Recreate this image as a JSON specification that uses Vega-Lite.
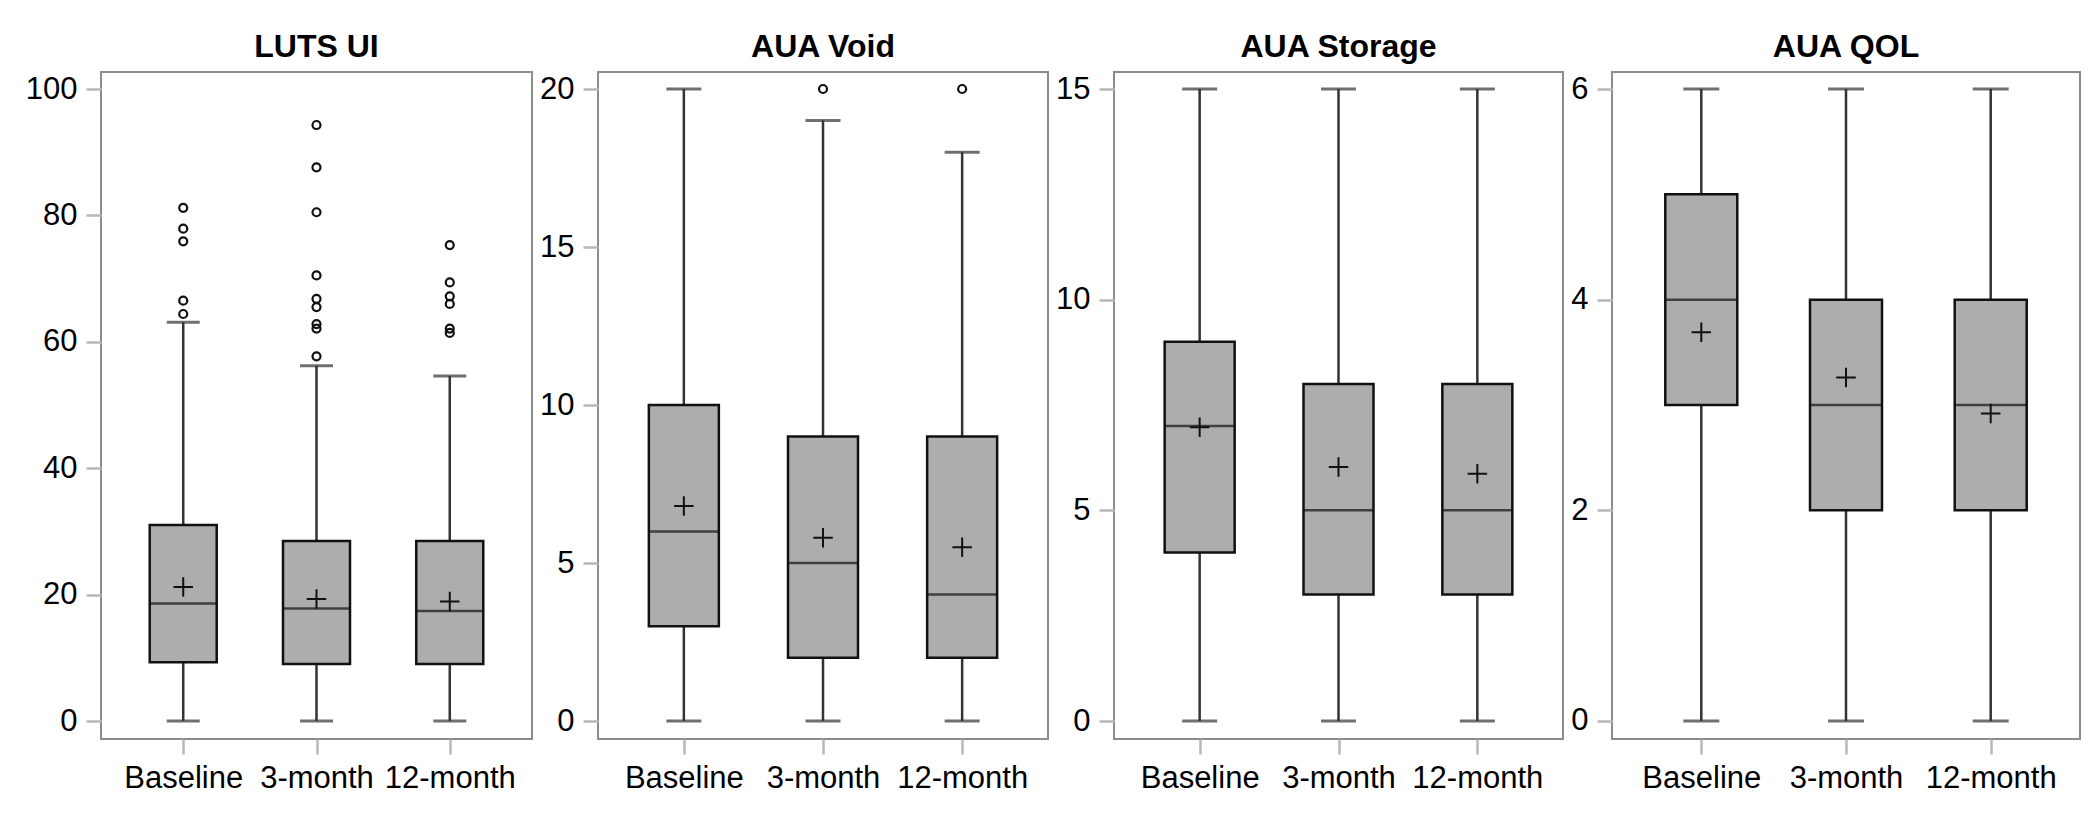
{
  "$schema": "https://vega.github.io/schema/vega-lite/v6.json",
  "background": "white",
  "padding": {"left": 24, "top": 30, "right": 0, "bottom": 0},
  "spacing": 5,
  "datasets": {
    "stats": [
      {"measure": "LUTS UI", "time": "Baseline", "min": 0, "q1": 9.3, "median": 18.6, "q3": 31.0, "max": 63.1, "mean": 21.2},
      {"measure": "LUTS UI", "time": "3-month", "min": 0, "q1": 9.0, "median": 17.8, "q3": 28.5, "max": 56.2, "mean": 19.3},
      {"measure": "LUTS UI", "time": "12-month", "min": 0, "q1": 9.0, "median": 17.4, "q3": 28.5, "max": 54.6, "mean": 18.9},
      {"measure": "AUA Void", "time": "Baseline", "min": 0, "q1": 3, "median": 6, "q3": 10, "max": 20, "mean": 6.8},
      {"measure": "AUA Void", "time": "3-month", "min": 0, "q1": 2, "median": 5, "q3": 9, "max": 19, "mean": 5.8},
      {"measure": "AUA Void", "time": "12-month", "min": 0, "q1": 2, "median": 4, "q3": 9, "max": 18, "mean": 5.5},
      {"measure": "AUA Storage", "time": "Baseline", "min": 0, "q1": 4, "median": 7, "q3": 9, "max": 15, "mean": 6.97},
      {"measure": "AUA Storage", "time": "3-month", "min": 0, "q1": 3, "median": 5, "q3": 8, "max": 15, "mean": 6.03},
      {"measure": "AUA Storage", "time": "12-month", "min": 0, "q1": 3, "median": 5, "q3": 8, "max": 15, "mean": 5.87},
      {"measure": "AUA QOL", "time": "Baseline", "min": 0, "q1": 3, "median": 4, "q3": 5, "max": 6, "mean": 3.69},
      {"measure": "AUA QOL", "time": "3-month", "min": 0, "q1": 2, "median": 3, "q3": 4, "max": 6, "mean": 3.26},
      {"measure": "AUA QOL", "time": "12-month", "min": 0, "q1": 2, "median": 3, "q3": 4, "max": 6, "mean": 2.92}
    ],
    "outliers": [
      {"measure": "LUTS UI", "time": "Baseline", "value": 81.2},
      {"measure": "LUTS UI", "time": "Baseline", "value": 77.9},
      {"measure": "LUTS UI", "time": "Baseline", "value": 75.9},
      {"measure": "LUTS UI", "time": "Baseline", "value": 66.5},
      {"measure": "LUTS UI", "time": "Baseline", "value": 64.4},
      {"measure": "LUTS UI", "time": "3-month", "value": 94.3},
      {"measure": "LUTS UI", "time": "3-month", "value": 87.6},
      {"measure": "LUTS UI", "time": "3-month", "value": 80.5},
      {"measure": "LUTS UI", "time": "3-month", "value": 70.5},
      {"measure": "LUTS UI", "time": "3-month", "value": 66.8},
      {"measure": "LUTS UI", "time": "3-month", "value": 65.5},
      {"measure": "LUTS UI", "time": "3-month", "value": 62.8},
      {"measure": "LUTS UI", "time": "3-month", "value": 62.1},
      {"measure": "LUTS UI", "time": "3-month", "value": 57.7},
      {"measure": "LUTS UI", "time": "12-month", "value": 75.3},
      {"measure": "LUTS UI", "time": "12-month", "value": 69.4},
      {"measure": "LUTS UI", "time": "12-month", "value": 67.2},
      {"measure": "LUTS UI", "time": "12-month", "value": 66.0},
      {"measure": "LUTS UI", "time": "12-month", "value": 62.1},
      {"measure": "LUTS UI", "time": "12-month", "value": 61.4},
      {"measure": "AUA Void", "time": "3-month", "value": 20},
      {"measure": "AUA Void", "time": "12-month", "value": 20}
    ]
  },
  "hconcat": [
    {
      "title": "LUTS UI",
      "width": 431, "height": 667,
      "data": {"name": "stats"},
      "transform": [{"filter": "datum.measure === 'LUTS UI'"}],
      "encoding": {
        "x": {"field": "time", "type": "nominal", "scale": {"type": "point", "padding": 0.617, "domain": ["Baseline", "3-month", "12-month"]}, "axis": {"title": null, "labelAngle": 0}}
      },
      "layer": [
        {"mark": {"type": "rule", "color": "#333333", "strokeWidth": 2.5}, "encoding": {"y": {"field": "min", "type": "quantitative", "scale": {"domain": [-2.848, 102.69], "nice": false, "zero": false}, "axis": {"title": null, "format": "d", "values": [0, 20, 40, 60, 80, 100]}}, "y2": {"field": "max"}}},
        {"mark": {"type": "bar", "size": 67, "fill": "#adadad", "stroke": "#111111", "strokeWidth": 2.5}, "encoding": {"y": {"field": "q1", "type": "quantitative"}, "y2": {"field": "q3"}}},
        {"mark": {"type": "tick", "size": 67, "thickness": 2.5, "color": "#111111"}, "encoding": {"y": {"field": "median", "type": "quantitative"}}},
        {"mark": {"type": "tick", "size": 33, "thickness": 3, "color": "#333333"}, "encoding": {"y": {"field": "min", "type": "quantitative"}}},
        {"mark": {"type": "tick", "size": 33, "thickness": 3, "color": "#333333"}, "encoding": {"y": {"field": "max", "type": "quantitative"}}},
        {"mark": {"type": "point", "shape": "M-1,0H1M0,-1V1", "size": 380, "filled": false, "stroke": "#111111", "strokeWidth": 2, "opacity": 1}, "encoding": {"y": {"field": "mean", "type": "quantitative"}}},
        {"data": {"name": "outliers"}, "transform": [{"filter": "datum.measure === 'LUTS UI'"}], "mark": {"type": "point", "shape": "circle", "size": 64, "filled": false, "stroke": "#111111", "strokeWidth": 2.2, "opacity": 1}, "encoding": {"y": {"field": "value", "type": "quantitative"}}}
      ]
    },
    {
      "title": "AUA Void",
      "width": 450, "height": 667,
      "data": {"name": "stats"},
      "transform": [{"filter": "datum.measure === 'AUA Void'"}],
      "encoding": {
        "x": {"field": "time", "type": "nominal", "scale": {"type": "point", "padding": 0.617, "domain": ["Baseline", "3-month", "12-month"]}, "axis": {"title": null, "labelAngle": 0}}
      },
      "layer": [
        {"mark": {"type": "rule", "color": "#333333", "strokeWidth": 2.5}, "encoding": {"y": {"field": "min", "type": "quantitative", "scale": {"domain": [-0.5696, 20.538], "nice": false, "zero": false}, "axis": {"title": null, "format": "d", "values": [0, 5, 10, 15, 20]}}, "y2": {"field": "max"}}},
        {"mark": {"type": "bar", "size": 70, "fill": "#adadad", "stroke": "#111111", "strokeWidth": 2.5}, "encoding": {"y": {"field": "q1", "type": "quantitative"}, "y2": {"field": "q3"}}},
        {"mark": {"type": "tick", "size": 70, "thickness": 2.5, "color": "#111111"}, "encoding": {"y": {"field": "median", "type": "quantitative"}}},
        {"mark": {"type": "tick", "size": 35, "thickness": 3, "color": "#333333"}, "encoding": {"y": {"field": "min", "type": "quantitative"}}},
        {"mark": {"type": "tick", "size": 35, "thickness": 3, "color": "#333333"}, "encoding": {"y": {"field": "max", "type": "quantitative"}}},
        {"mark": {"type": "point", "shape": "M-1,0H1M0,-1V1", "size": 380, "filled": false, "stroke": "#111111", "strokeWidth": 2, "opacity": 1}, "encoding": {"y": {"field": "mean", "type": "quantitative"}}},
        {"data": {"name": "outliers"}, "transform": [{"filter": "datum.measure === 'AUA Void'"}], "mark": {"type": "point", "shape": "circle", "size": 64, "filled": false, "stroke": "#111111", "strokeWidth": 2.2, "opacity": 1}, "encoding": {"y": {"field": "value", "type": "quantitative"}}}
      ]
    },
    {
      "title": "AUA Storage",
      "width": 449, "height": 667,
      "data": {"name": "stats"},
      "transform": [{"filter": "datum.measure === 'AUA Storage'"}],
      "encoding": {
        "x": {"field": "time", "type": "nominal", "scale": {"type": "point", "padding": 0.617, "domain": ["Baseline", "3-month", "12-month"]}, "axis": {"title": null, "labelAngle": 0}}
      },
      "layer": [
        {"mark": {"type": "rule", "color": "#333333", "strokeWidth": 2.5}, "encoding": {"y": {"field": "min", "type": "quantitative", "scale": {"domain": [-0.4272, 15.4035], "nice": false, "zero": false}, "axis": {"title": null, "format": "d", "values": [0, 5, 10, 15]}}, "y2": {"field": "max"}}},
        {"mark": {"type": "bar", "size": 70, "fill": "#adadad", "stroke": "#111111", "strokeWidth": 2.5}, "encoding": {"y": {"field": "q1", "type": "quantitative"}, "y2": {"field": "q3"}}},
        {"mark": {"type": "tick", "size": 70, "thickness": 2.5, "color": "#111111"}, "encoding": {"y": {"field": "median", "type": "quantitative"}}},
        {"mark": {"type": "tick", "size": 35, "thickness": 3, "color": "#333333"}, "encoding": {"y": {"field": "min", "type": "quantitative"}}},
        {"mark": {"type": "tick", "size": 35, "thickness": 3, "color": "#333333"}, "encoding": {"y": {"field": "max", "type": "quantitative"}}},
        {"mark": {"type": "point", "shape": "M-1,0H1M0,-1V1", "size": 380, "filled": false, "stroke": "#111111", "strokeWidth": 2, "opacity": 1}, "encoding": {"y": {"field": "mean", "type": "quantitative"}}}
      ]
    },
    {
      "title": "AUA QOL",
      "width": 468, "height": 667,
      "data": {"name": "stats"},
      "transform": [{"filter": "datum.measure === 'AUA QOL'"}],
      "encoding": {
        "x": {"field": "time", "type": "nominal", "scale": {"type": "point", "padding": 0.617, "domain": ["Baseline", "3-month", "12-month"]}, "axis": {"title": null, "labelAngle": 0}}
      },
      "layer": [
        {"mark": {"type": "rule", "color": "#333333", "strokeWidth": 2.5}, "encoding": {"y": {"field": "min", "type": "quantitative", "scale": {"domain": [-0.1709, 6.1614], "nice": false, "zero": false}, "axis": {"title": null, "format": "d", "values": [0, 2, 4, 6]}}, "y2": {"field": "max"}}},
        {"mark": {"type": "bar", "size": 72, "fill": "#adadad", "stroke": "#111111", "strokeWidth": 2.5}, "encoding": {"y": {"field": "q1", "type": "quantitative"}, "y2": {"field": "q3"}}},
        {"mark": {"type": "tick", "size": 72, "thickness": 2.5, "color": "#111111"}, "encoding": {"y": {"field": "median", "type": "quantitative"}}},
        {"mark": {"type": "tick", "size": 36, "thickness": 3, "color": "#333333"}, "encoding": {"y": {"field": "min", "type": "quantitative"}}},
        {"mark": {"type": "tick", "size": 36, "thickness": 3, "color": "#333333"}, "encoding": {"y": {"field": "max", "type": "quantitative"}}},
        {"mark": {"type": "point", "shape": "M-1,0H1M0,-1V1", "size": 380, "filled": false, "stroke": "#111111", "strokeWidth": 2, "opacity": 1}, "encoding": {"y": {"field": "mean", "type": "quantitative"}}}
      ]
    }
  ],
  "config": {
    "font": "Liberation Sans",
    "view": {"stroke": "#8c8c8c", "strokeWidth": 2},
    "axis": {
      "domain": false,
      "grid": false,
      "labelFont": "Liberation Sans",
      "labelFontSize": 31,
      "labelColor": "#000000",
      "tickColor": "#b8b8b8",
      "tickWidth": 2.5,
      "tickSize": 15,
      "labelPadding": 9
    },
    "title": {"font": "Liberation Sans", "fontSize": 32, "fontWeight": "bold", "color": "#000000", "anchor": "middle", "baseline": "alphabetic", "offset": 8}
  }
}
